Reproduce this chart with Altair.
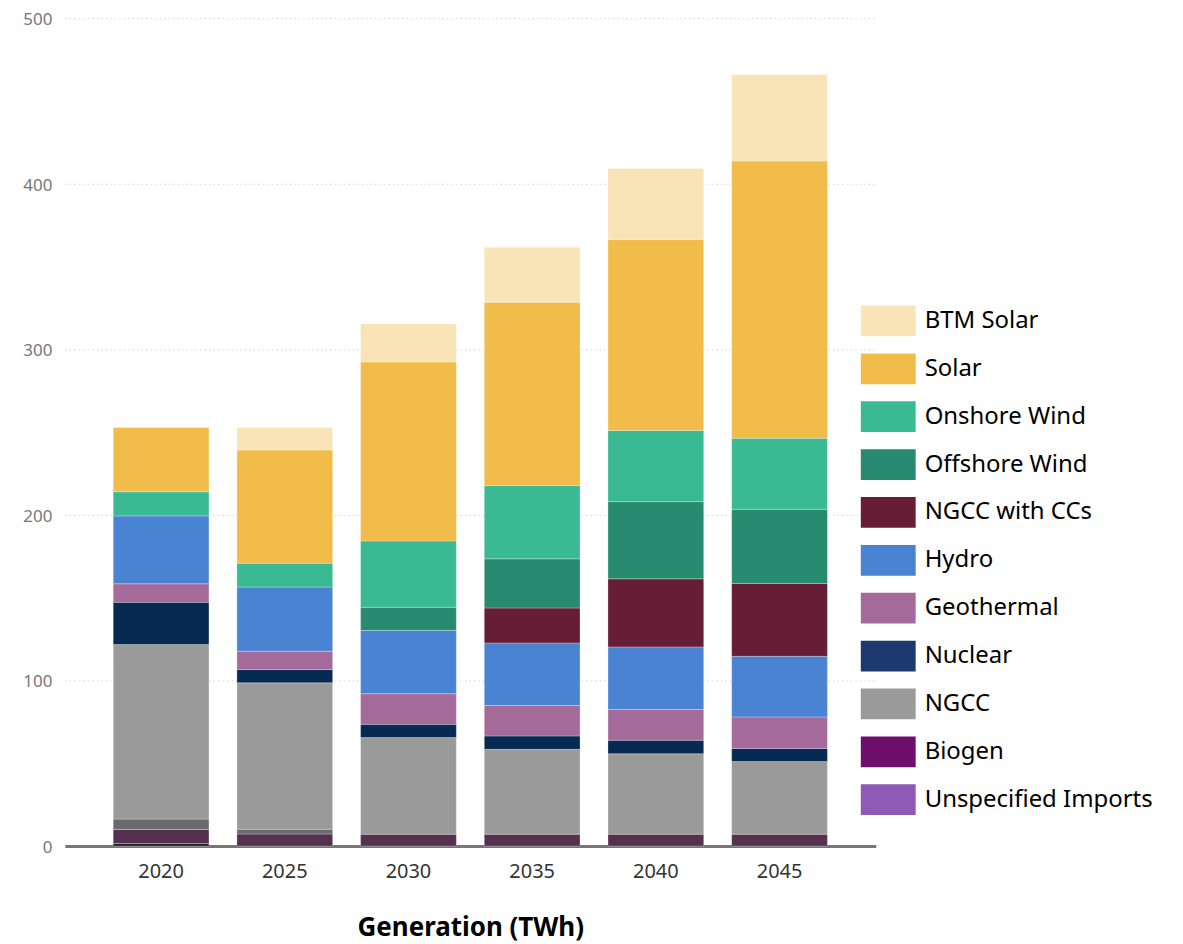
import altair as alt
import pandas as pd

years = ["2020", "2025", "2030", "2035", "2040", "2045"]

# values (TWh)
other = [1.5, 0, 0, 0, 0, 0]
biogen = [8.5, 7.3, 7.2, 7.2, 7.2, 7.2]
coal = [6.3, 2.9, 0, 0, 0, 0]
ngcc = [105.4, 88.4, 58.3, 51.2, 48.6, 43.8]
nuclear = [25.5, 8.0, 8.0, 8.1, 8.1, 8.0]
geothermal = [11.2, 11.1, 18.5, 18.4, 18.6, 19.0]
hydro = [41.0, 38.7, 38.3, 37.8, 37.8, 36.6]
ngcc_ccs = [0, 0, 0, 21.1, 41.1, 44.0]
offshore = [0, 0, 13.9, 29.7, 46.6, 44.8]
onshore = [14.6, 14.4, 40.1, 44.2, 43.0, 42.9]
solar = [38.8, 68.4, 108.1, 110.8, 115.3, 167.4]
btm_solar = [0, 13.6, 23.1, 33.1, 42.9, 52.2]
unspecified = [0, 0, 0, 0, 0, 0]

# stacking order, bottom to top
series = [
    ("Other", other),
    ("Unspecified Imports", unspecified),
    ("Biogen", biogen),
    ("Coal", coal),
    ("NGCC", ngcc),
    ("Nuclear", nuclear),
    ("Geothermal", geothermal),
    ("Hydro", hydro),
    ("NGCC with CCs", ngcc_ccs),
    ("Offshore Wind", offshore),
    ("Onshore Wind", onshore),
    ("Solar", solar),
    ("BTM Solar", btm_solar),
]

legend_order = ["BTM Solar", "Solar", "Onshore Wind", "Offshore Wind", "NGCC with CCs",
                "Hydro", "Geothermal", "Nuclear", "NGCC", "Biogen", "Unspecified Imports"]
legend_colors = ["#f9e4b7", "#f2bc4a", "#39ba93", "#288a6e", "#681d37",
                 "#4b83d3", "#a46a99", "#1c3a6e", "#9a9a9a", "#6d0f6b", "#8e5ab5"]
hidden = ["Other", "Coal"]
hidden_colors = ["#1a1a1a", "#6b6b6b"]

rows = []
for k, (name, vals) in enumerate(series):
    for y, v in zip(years, vals):
        if v > 0:
            rows.append({"year": y, "source": name, "value": v, "order": k})
df = pd.DataFrame(rows)

rect_path = "M-1,-0.56L1,-0.56L1,0.56L-1,0.56Z"

chart = alt.Chart(df).mark_bar(stroke="#ffffff", strokeWidth=0.6, strokeOpacity=0.45).encode(
    x=alt.X("year:N", sort=years,
            scale=alt.Scale(paddingInner=0.226, paddingOuter=0.391),
            axis=alt.Axis(title="Generation (TWh)", labelAngle=0, ticks=False,
                          domainColor="#777777", domainWidth=3,
                          labelFont="Noto Sans", labelFontSize=20, labelColor="#333333",
                          labelPadding=16,
                          titleFont="Noto Sans", titleFontSize=26, titleFontWeight="bold",
                          titleColor="#000000", titlePadding=33)),
    y=alt.Y("value:Q", stack="zero",
            scale=alt.Scale(domain=[0, 500], nice=False),
            axis=alt.Axis(title=None, values=[0, 100, 200, 300, 400, 500], domain=False,
                          ticks=False, labelFont="Noto Sans", labelFontSize=17,
                          labelColor="#777777", labelPadding=13, labelOffset=1.5,
                          gridColor="#d4d4d4", gridDash=[1.5, 3], gridWidth=1)),
    color=alt.Color("source:N",
                    scale=alt.Scale(domain=legend_order + hidden,
                                    range=legend_colors + hidden_colors),
                    legend=alt.Legend(title=None, values=legend_order, orient="none",
                                      legendX=798, legendY=276,
                                      symbolType=rect_path, symbolSize=3025,
                                      symbolStrokeWidth=0, symbolOpacity=1,
                                      labelFont="Noto Sans", labelFontSize=24,
                                      labelColor="#000000", labelOffset=9,
                                      rowPadding=5, labelLimit=400)),
    order=alt.Order("order:Q", sort="ascending"),
    tooltip=["year:N", "source:N", "value:Q"],
).properties(
    width=813,
    height=830,
    autosize=alt.AutoSizeParams(type="none"),
    padding={"left": 57, "top": 9, "right": 300, "bottom": 110},
).configure_view(stroke=None)

spec = chart.to_dict()
spec["encoding"]["color"]["condition"] = [
    {"test": "datum.source === 'Biogen'", "value": "#55304f"},
    {"test": "datum.source === 'Nuclear'", "value": "#072a52"},
]
chart = alt.Chart.from_dict(spec)

chart.save("out.html", embed_options={"renderer": "svg", "actions": False})
